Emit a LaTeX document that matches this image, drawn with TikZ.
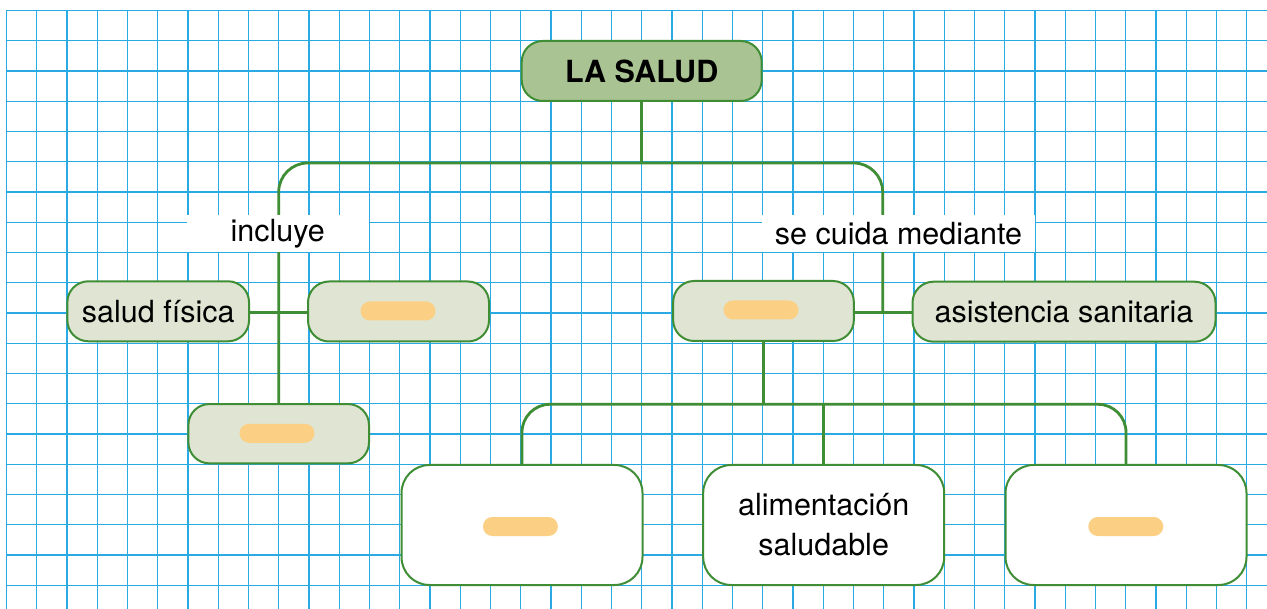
\documentclass[tikz,border=0pt]{standalone}
\usepackage{fontspec}
\setmainfont{TeX Gyre Heros}
\newcommand\mainfs{\fontsize{30.5}{40}\selectfont}
\definecolor{gridc}{HTML}{2AAAE2}
\definecolor{gborder}{HTML}{3F8E35}
\definecolor{topfill}{HTML}{AAC393}
\definecolor{lfill}{HTML}{DFE5D2}
\definecolor{pillc}{HTML}{FBD084}
\tikzset{
  gridl/.style={draw=gridc, line width=1.4pt},
  conn/.style={draw=gborder, line width=2.8pt},
  topbox/.style={draw=gborder, line width=2pt, fill=topfill, rounded corners=21pt, inner sep=0pt, minimum width=240pt, minimum height=60pt, font=\mainfs\bfseries},
  lnode/.style={draw=gborder, line width=2pt, fill=lfill, rounded corners=21pt, inner sep=0pt, minimum height=60pt, font=\mainfs},
  wnode/.style={draw=gborder, line width=2pt, fill=white, rounded corners=28pt, inner sep=0pt, minimum width=241pt, minimum height=120pt, align=center, font=\mainfs},
  pill/.style={fill=pillc, rounded corners=9.5pt, inner sep=0pt, minimum width=75pt, minimum height=19pt},
  lab/.style={fill=white, inner sep=0pt, minimum height=37pt, font=\mainfs}
}
\begin{document}
\begin{tikzpicture}[x=1pt,y=-1pt]
\useasboundingbox (0,0) rectangle (1267,609);
\fill[white] (0,0) rectangle (1267,609);
% grid
\foreach \i in {0,...,41} \draw[gridl] ({6.5+30.25*\i},10.5) -- ({6.5+30.25*\i},609);
\foreach \j in {0,...,19} \draw[gridl] (6.5,{10.5+30.25*\j}) -- (1267,{10.5+30.25*\j});
% nodes
\node[topbox] (top) at (641.7,71) {LA SALUD};
\node[lnode, minimum width=181.7pt] (sf) at (158.2,311.3) {salud física};
\node[lnode, minimum width=181pt] (b1) at (398.5,311.5) {};
\node[lnode, minimum width=180.6pt, minimum height=59.3pt] (b2) at (278.7,433.7) {};
\node[lnode, minimum width=180.7pt] (b3) at (763.5,311) {};
\node[lnode, minimum width=303pt] (as) at (1064,311.7) {asistencia sanitaria};
\node[wnode] (w1) at (522,525) {};
\node[wnode] (w2) at (823.7,525) {alimentación\\saludable};
\node[wnode] (w3) at (1126,525) {};
% pills
\node[pill] (p1) at (398,311) {};
\node[pill] (p2) at (277,433.3) {};
\node[pill] (p3) at (761,310) {};
\node[pill] (p4) at (520.4,526.5) {};
\node[pill] (p5) at (1125.8,526.5) {};
% bus coordinates
\coordinate (busA) at (0,163);
\coordinate (busB) at (0,404.3);
\coordinate (jr) at (882.7,312.5);
% connectors
\draw[conn] (top.south) -- (top.south |- busA);
\draw[conn, rounded corners=29pt] (b2.north) -- (b2.north |- busA) -- (jr |- busA) -- (jr);
\draw[conn] (sf.east |- 0,312.5) -- (b1.west |- 0,312.5);
\draw[conn] (b3.east |- 0,312.5) -- (as.west |- 0,312.5);
\draw[conn] (b3.south) -- (b3.south |- busB);
\draw[conn, rounded corners=28pt] (w1.north) -- (w1.north |- busB) -- (w3.north |- busB) -- (w3.north);
\draw[conn] (w2.north) -- (w2.north |- busB);
% labels
\node[lab, minimum width=182pt] (l1) at (277.8,233.6) {incluye};
\node[lab, minimum width=273.5pt] (l2) at (898.5,233.6) {se cuida mediante};
\end{tikzpicture}
\end{document}
